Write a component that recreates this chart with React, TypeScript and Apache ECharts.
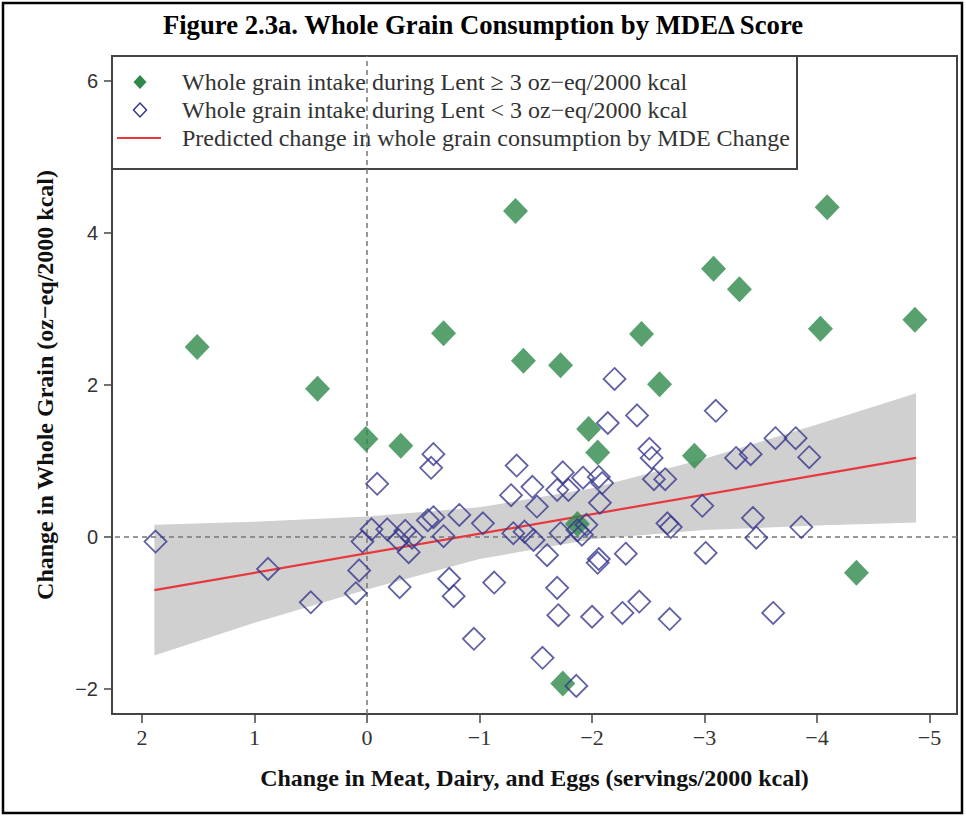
import React, { useEffect, useRef } from "react";
import * as echarts from "echarts";

// Text
const titleText = "Figure 2.3a. Whole Grain Consumption by MDEΔ Score";
const xAxisTitle = "Change in Meat, Dairy, and Eggs (servings/2000 kcal)";
const yAxisTitle = "Change in Whole Grain (oz−eq/2000 kcal)";
const legendLabels = [
  "Whole grain intake during Lent ≥ 3 oz−eq/2000 kcal",
  "Whole grain intake during Lent < 3 oz−eq/2000 kcal",
  "Predicted change in whole grain consumption by MDE Change",
];

// Axis ticks
const xTicks = [2, 1, 0, -1, -2, -3, -4, -5];
const yTicks = [-2, 0, 2, 4, 6];
const xRange = [-5.244, 2.267];
const yRange = [-2.33, 6.33];

// Participants with whole grain intake during Lent >= 3 oz-eq/2000 kcal
const highIntake: [number, number][] = [
  [1.51, 2.5], [0.44, 1.95], [0.01, 1.29], [-0.3, 1.2], [-0.68, 2.68],
  [-1.32, 4.29], [-1.39, 2.32], [-1.72, 2.26], [-1.97, 1.42], [-2.05, 1.11],
  [-2.44, 2.67], [-2.6, 2.01], [-2.91, 1.07], [-3.08, 3.53], [-3.31, 3.26],
  [-4.03, 2.74], [-4.09, 4.34], [-4.87, 2.86], [-4.35, -0.47], [-1.74, -1.93],
  [-1.87, 0.17],
];

// Participants with whole grain intake during Lent < 3 oz-eq/2000 kcal
const lowIntake: [number, number][] = [
  [1.88, -0.06], [0.88, -0.42], [0.5, -0.86], [-0.09, 0.7], [-0.04, 0.1],
  [0.04, -0.06], [0.07, -0.44], [0.1, -0.74], [-0.18, 0.1], [-0.28, -0.04],
  [-0.34, 0.08], [-0.4, -0.01], [-0.37, -0.2], [-0.54, 0.22], [-0.59, 0.26],
  [-0.59, 1.09], [-0.57, 0.91], [-0.68, 0.01], [-0.82, 0.29], [-1.03, 0.18],
  [-0.29, -0.66], [-0.73, -0.55], [-0.77, -0.78], [-1.13, -0.6], [-0.95, -1.34],
  [-1.33, 0.94], [-1.74, 0.85], [-1.92, 0.78], [-2.06, 0.79], [-2.09, 0.71],
  [-2.2, 2.08], [-2.14, 1.5], [-2.4, 1.6], [-2.51, 1.16], [-2.53, 1.04],
  [-2.55, 0.76], [-2.65, 0.76], [-1.47, 0.66], [-1.69, 0.62], [-1.79, 0.62],
  [-1.28, 0.55], [-1.51, 0.4], [-2.07, 0.45], [-1.3, 0.05], [-1.4, 0.07],
  [-1.48, -0.04], [-1.72, 0.05], [-1.87, 0.09], [-1.91, 0.03], [-1.95, 0.16],
  [-2.67, 0.18], [-2.7, 0.13], [-1.6, -0.24], [-2.06, -0.29], [-2.05, -0.34],
  [-2.3, -0.22], [-1.69, -0.67], [-1.7, -1.03], [-2.0, -1.05], [-2.27, -1.0],
  [-2.42, -0.85], [-2.69, -1.08], [-1.56, -1.59], [-1.86, -1.96],
  [-2.98, 0.41], [-3.01, -0.21], [-3.1, 1.66], [-3.28, 1.04], [-3.41, 1.09],
  [-3.63, 1.3], [-3.81, 1.3], [-3.93, 1.05], [-3.43, 0.25], [-3.46, -0.01],
  [-3.86, 0.13], [-3.61, -1.0],
];

// Fitted regression line and its confidence band
const fitLine: [number, number][] = [
  [1.89, -0.7],
  [-4.88, 1.04],
];
const bandX = [1.89, 1, 0, -1, -2, -3, -4, -4.88];
const bandUpper = [0.16, 0.2, 0.27, 0.39, 0.64, 1.03, 1.48, 1.89];
const bandLower = [-1.56, -1.13, -0.69, -0.29, -0.03, 0.09, 0.15, 0.19];

const GREEN = "#2e8a4a";
const NAVY = "#38388e";
const RED = "#e8383d";
const SERIF = '"Liberation Serif", "Times New Roman", serif';
const SANS = '"Liberation Sans", Arial, sans-serif';

const fmtNum = (v: number) => (v < 0 ? "−" + Math.abs(v) : String(v));

export default function App() {
  const ref = useRef<HTMLDivElement>(null);

  useEffect(() => {
    if (!ref.current) return;
    const chart = echarts.init(ref.current, undefined, { renderer: "svg" });

    const option: any = {
      animation: false,
      backgroundColor: "#ffffff",
      title: {
        text: titleText,
        left: "center",
        top: 6,
        textStyle: {
          fontFamily: SERIF,
          fontWeight: "bold",
          fontSize: 26.7,
          color: "#000",
        },
      },
      grid: {
        left: 112,
        top: 56,
        right: 9,
        bottom: 102,
        show: true,
        borderColor: "#444",
        borderWidth: 2,
        backgroundColor: "transparent",
      },
      xAxis: {
        type: "value",
        inverse: true,
        min: xRange[0],
        max: xRange[1],
        splitLine: { show: false },
        axisLine: { show: false, onZero: false },
        axisTick: {
          show: true,
          customValues: xTicks,
          length: 9,
          lineStyle: { color: "#444", width: 1.5 },
        },
        axisLabel: {
          customValues: xTicks,
          formatter: fmtNum,
          fontFamily: SERIF,
          fontSize: 22,
          color: "#333",
          margin: 12,
        },
        name: xAxisTitle,
        nameLocation: "middle",
        nameGap: 52,
        nameTextStyle: {
          fontFamily: SERIF,
          fontWeight: "bold",
          fontSize: 24,
          color: "#111",
        },
      },
      yAxis: {
        type: "value",
        min: yRange[0],
        max: yRange[1],
        splitLine: { show: false },
        axisLine: { show: false, onZero: false },
        axisTick: {
          show: true,
          customValues: yTicks,
          length: 8,
          lineStyle: { color: "#444", width: 1.5 },
        },
        axisLabel: {
          customValues: yTicks,
          formatter: fmtNum,
          fontFamily: SANS,
          fontSize: 20,
          color: "#333",
          margin: 14,
        },
        name: yAxisTitle,
        nameLocation: "middle",
        nameGap: 55,
        nameRotate: 90,
        nameTextStyle: {
          fontFamily: SERIF,
          fontWeight: "bold",
          fontSize: 24,
          color: "#111",
        },
      },
      series: [
        {
          type: "custom",
          name: "band",
          silent: true,
          z: 1,
          data: [[0, 0]],
          renderItem: (_params: any, api: any) => {
            const pts: number[][] = [];
            for (let i = 0; i < bandX.length; i++) {
              pts.push(api.coord([bandX[i], bandUpper[i]]));
            }
            for (let i = bandX.length - 1; i >= 0; i--) {
              pts.push(api.coord([bandX[i], bandLower[i]]));
            }
            return {
              type: "polygon",
              shape: { points: pts },
              style: { fill: "#d0d0d0", stroke: "none" },
            };
          },
        },
        {
          type: "line",
          name: legendLabels[2],
          data: fitLine,
          showSymbol: false,
          silent: true,
          z: 3,
          lineStyle: { color: RED, width: 2.2 },
          markLine: {
            silent: true,
            symbol: ["none", "none"],
            label: { show: false },
            lineStyle: { color: "#777", type: [5, 4], width: 1.5 },
            data: [{ xAxis: 0 }, { yAxis: 0 }],
            z: 2,
          },
        },
        {
          type: "scatter",
          name: legendLabels[0],
          data: highIntake,
          symbol: "diamond",
          symbolSize: [25, 26],
          silent: true,
          z: 4,
          itemStyle: { color: GREEN },
        },
        {
          type: "scatter",
          name: legendLabels[1],
          data: lowIntake,
          symbol: "diamond",
          symbolSize: 22,
          silent: true,
          z: 5,
          itemStyle: {
            color: "rgba(255,255,255,0)",
            borderColor: NAVY,
            borderWidth: 1.8,
          },
        },
      ],
      graphic: [
        {
          type: "rect",
          z: 200,
          silent: true,
          shape: { x: 3, y: 3, width: 959, height: 810 },
          style: { fill: "none", stroke: "#000", lineWidth: 2.5 },
        },
        {
          type: "group",
          z: 100,
          silent: true,
          children: [
            {
              type: "rect",
              shape: { x: 112, y: 56, width: 685, height: 113 },
              style: { fill: "#fff", stroke: "#444", lineWidth: 2 },
            },
            {
              type: "polygon",
              shape: { points: [[140, 75], [146.5, 82], [140, 89], [133.5, 82]] },
              style: { fill: GREEN },
            },
            {
              type: "polygon",
              shape: { points: [[140, 103], [146.5, 110], [140, 117], [133.5, 110]] },
              style: { fill: "none", stroke: NAVY, lineWidth: 1.5 },
            },
            {
              type: "line",
              shape: { x1: 117, y1: 138, x2: 161, y2: 138 },
              style: { stroke: RED, lineWidth: 2 },
            },
            ...legendLabels.map((t, i) => ({
              type: "text",
              x: 182,
              y: [82, 110, 138][i],
              style: {
                text: t,
                font: `24px ${SERIF}`,
                fill: "#333",
                verticalAlign: "middle",
              },
            })),
          ],
        },
      ],
    };

    chart.setOption(option);
    return () => chart.dispose();
  }, []);

  return (
    <div
      ref={ref}
      style={{ position: "fixed", left: 0, top: 0, width: 966, height: 816 }}
    />
  );
}
